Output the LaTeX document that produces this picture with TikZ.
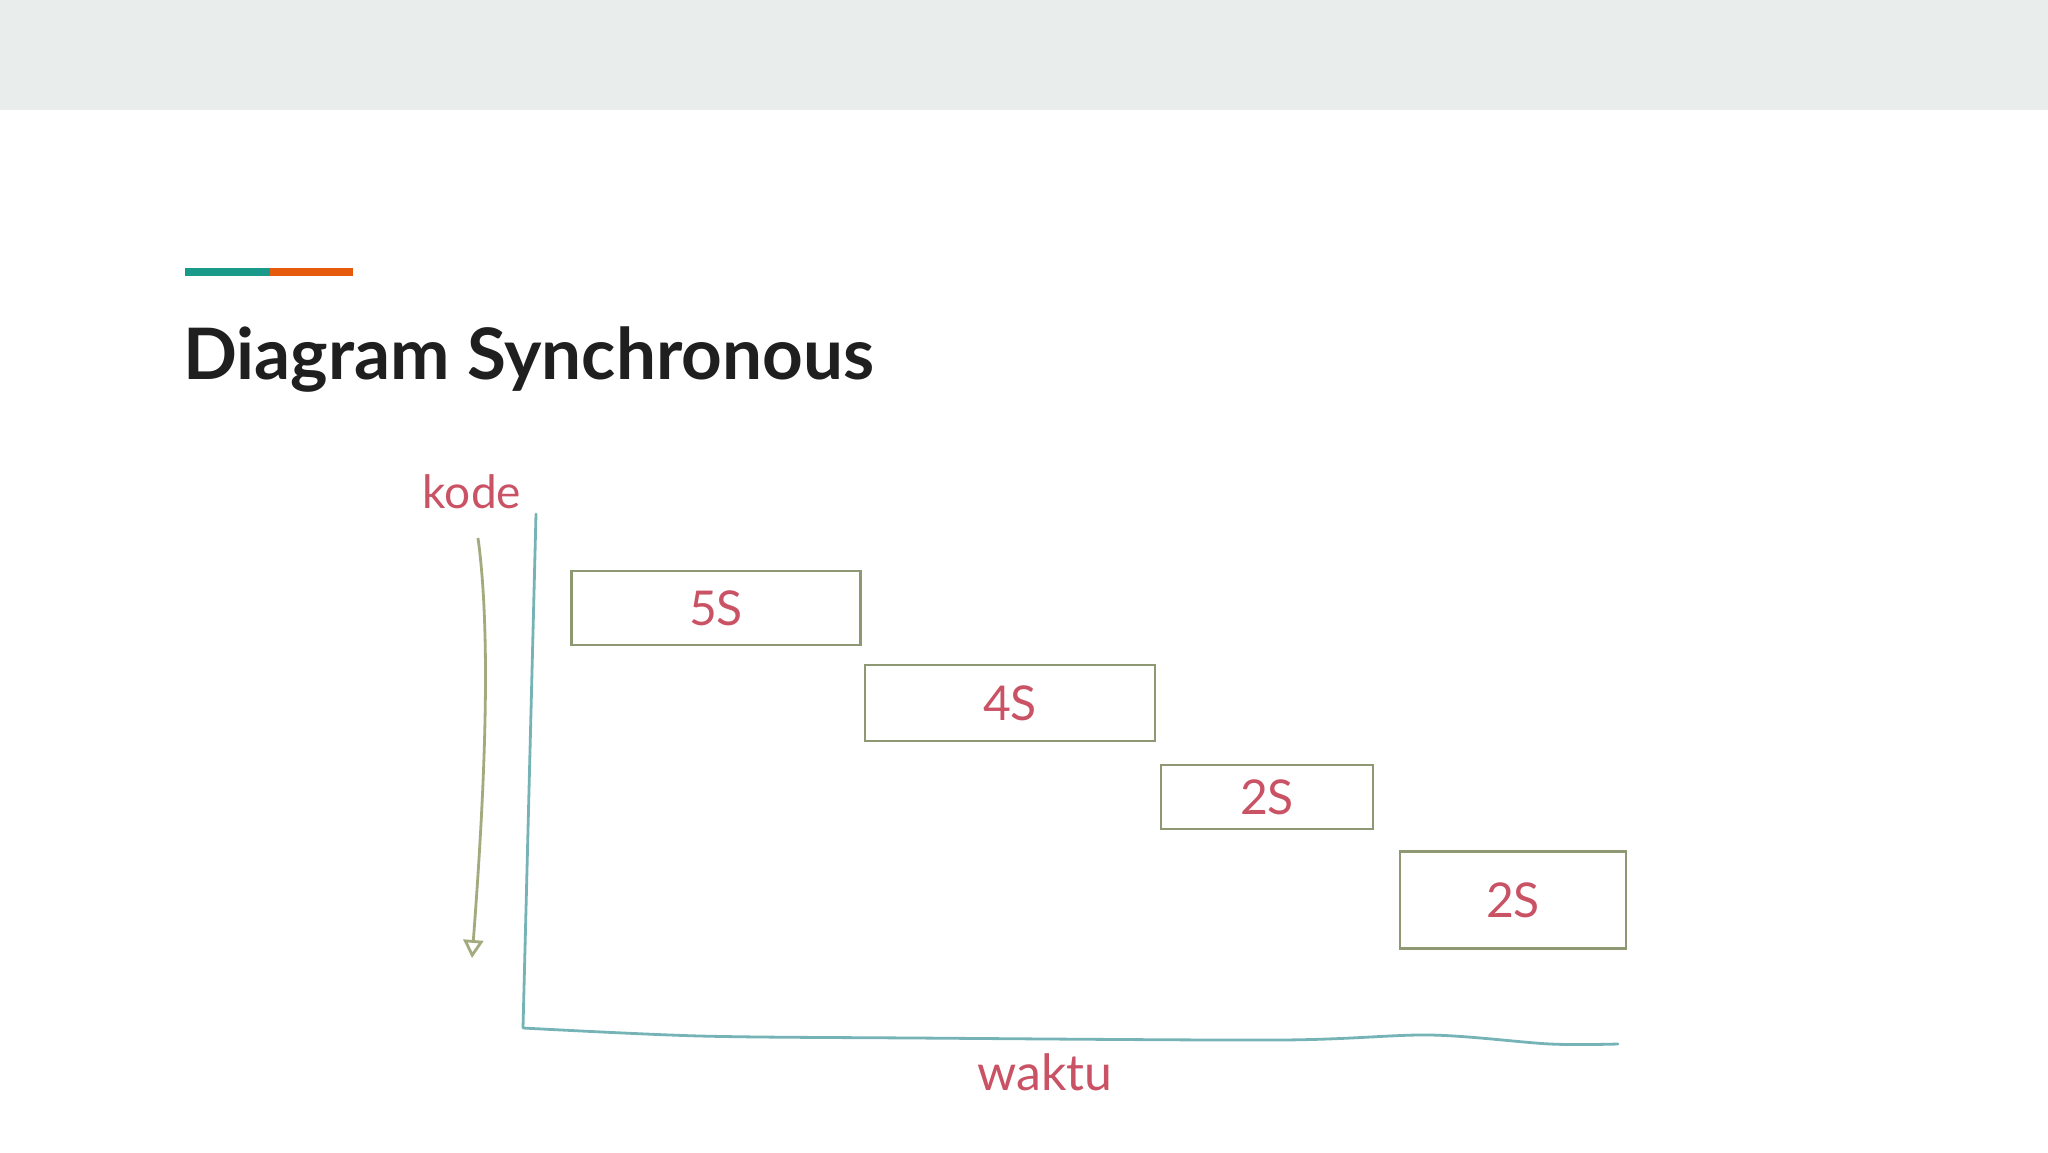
\documentclass[tikz,border=0pt]{standalone}
\usepackage{fontspec}
\setmainfont{Lato}
\usetikzlibrary{arrows.meta}

\definecolor{headgray}{HTML}{E9EDEC}
\definecolor{accteal}{HTML}{1A9A8A}
\definecolor{accorange}{HTML}{E65A0C}
\definecolor{titleink}{HTML}{1F1F1F}
\definecolor{inkred}{HTML}{C95264}
\definecolor{boxolive}{HTML}{8E9873}
\definecolor{arrowolive}{HTML}{A2AA7E}
\definecolor{axisteal}{HTML}{76B3B6}

\tikzset{
  taskbox/.style={draw=boxolive, line width=2.8pt, minimum height=#1, inner sep=0pt,
    text=inkred, font=\fontsize{48}{50}\selectfont},
  inklabel/.style={text=inkred, font=\fontsize{46}{48}\selectfont, inner sep=0pt}
}

\begin{document}
\begin{tikzpicture}[x=1pt, y=-1pt]

\useasboundingbox (0,0) rectangle (2048,1152);

\fill[headgray] (0,0) rectangle (2048,110);

\fill[accteal] (185,268) rectangle (270,276);

\fill[accorange] (270,268) rectangle (353,276);

\node[anchor=base west, inner sep=0pt, text=titleink,
  font=\fontsize{71}{74}\selectfont\bfseries] (title) at (183,379) {Diagram Synchronous};

\node[inklabel] (kode) at (472,492) {kode};

\node[inklabel, font=\fontsize{50}{52}\selectfont] (waktu) at (1045,1072) {waktu};

\node[taskbox=74pt, minimum width=289pt] (t5) at (716,608) {5S};

\node[taskbox=76pt, minimum width=290pt] (t4) at (1010,703) {4S};

\node[taskbox=64pt, minimum width=212pt] (t2a) at (1267,797) {2S};

\node[taskbox=97pt, minimum width=226pt] (t2b) at (1513,900) {2S};

\coordinate (ytop) at (536,514);
\coordinate (origin) at (523,1028);
\coordinate (xend) at (1618,1044);

\draw[axisteal, line width=2.8pt, line cap=round, line join=round]
  (ytop) -- (origin)
  plot[smooth] coordinates {(origin) (700,1036) (914,1038) (1280,1040) (1430,1035) (1550,1044) (xend)};

\coordinate (atop) at (478,538);
\coordinate (abot) at (472,958);

\draw[arrowolive, line width=2.8pt, -{Triangle[open, length=18pt, width=20pt]}]
  (atop) .. controls (492,640) and (484,800) .. (abot);

\end{tikzpicture}
\end{document}
